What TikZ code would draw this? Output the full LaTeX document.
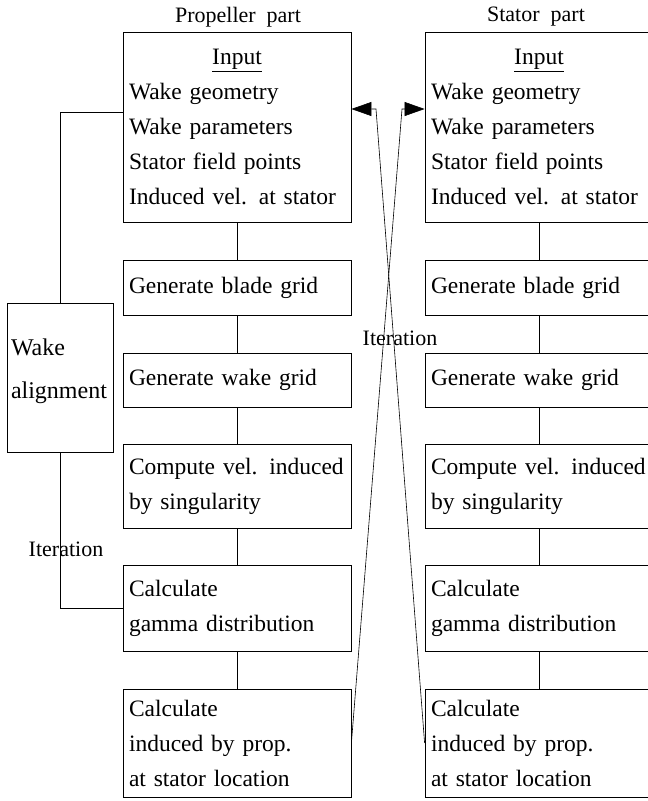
\documentclass[tikz,border=0pt]{standalone}
\usepackage{fontspec}
\setmainfont{Liberation Serif}
\usetikzlibrary{arrows.meta,calc}
\newcommand{\wsp}{\spaceskip=11pt plus 2pt minus 1pt\relax}
\newcommand{\bsp}{\spaceskip=9pt plus 1pt minus 1pt\relax\hyphenpenalty=10000\relax}
\begin{document}
\begin{tikzpicture}[x=1pt,y=-1pt,
  box/.style={draw, line width=0.8pt, minimum width=228pt, text width=216pt, inner xsep=6pt, inner ysep=0pt, align=left, font=\fontsize{23.5}{35}\selectfont\bsp},
  conn/.style={line width=0.6pt},
  lbl/.style={font=\fontsize{22}{26}\selectfont\wsp, inner sep=0pt},
  tip/.style={-{Triangle[length=20pt,width=14pt]}}]
\useasboundingbox (0,0) rectangle (648,801);

% titles
\node[lbl] (tP) at (238,17) {Propeller part};
\node[lbl] (tS) at (536,17) {Stator part};

% propeller column
\node[box, minimum height=190pt] (inL) at (237,127) {\makebox[216pt]{\underline{Input}}\\ Wake geometry\\ Wake parameters\\ Stator field points\\ \mbox{Induced vel. at stator}};
\node[box, minimum height=55pt] (blL) at (237,287.5) {Generate blade grid};
\node[box, minimum height=54pt] (wgL) at (237,380) {Generate wake grid};
\node[box, minimum height=84pt] (cvL) at (237,486) {\mbox{Compute vel. induced}\\ by singularity};
\node[box, minimum height=86pt] (gaL) at (237,608) {Calculate\\ gamma distribution};
\node[box, minimum height=108pt] (idL) at (237,743) {Calculate\\ induced by prop.\\ at stator location};

% stator column
\node[box, minimum height=190pt] (inR) at (539,127) {\makebox[216pt]{\underline{Input}}\\ Wake geometry\\ Wake parameters\\ Stator field points\\ \mbox{Induced vel. at stator}};
\node[box, minimum height=55pt] (blR) at (539,287.5) {Generate blade grid};
\node[box, minimum height=54pt] (wgR) at (539,380) {Generate wake grid};
\node[box, minimum height=84pt] (cvR) at (539,486) {\mbox{Compute vel. induced}\\ by singularity};
\node[box, minimum height=86pt] (gaR) at (539,608) {Calculate\\ gamma distribution};
\node[box, minimum height=108pt] (idR) at (539,743) {Calculate\\ induced by prop.\\ at stator location};

% wake alignment
\node[draw, line width=0.8pt, minimum width=106pt, minimum height=149pt] (wa) at (60,377.5) {};
\node[align=left, text width=98pt, inner sep=0pt, font=\fontsize{24}{43}\selectfont] (wat) at ($(wa.center)+(0,-6)$) {Wake\\ alignment};

% vertical connectors
\foreach \a/\b in {inL/blL, blL/wgL, wgL/cvL, cvL/gaL, gaL/idL, inR/blR, blR/wgR, wgR/cvR, cvR/gaR, gaR/idR}
  \draw[conn] (\a.south) -- (\b.north);

% wake alignment loop
\coordinate (lt) at (60,112);
\coordinate (lb) at (60,608);
\draw[conn] (inL.west |- lt) -- (lt) -- (wa.north);
\draw[conn] (wa.south) -- (lb) -- (gaL.west);
\node[lbl] (it1) at (66,549) {Iteration};

% crossing iteration arrows
\coordinate (r1) at (402,109);
\coordinate (l1) at (376,109);
\draw[conn, tip] (idL.east) -- (r1) -- (inR.west |- r1);
\draw[conn, tip] (idR.west) -- (l1) -- (inL.east |- l1);
\node[lbl] (it2) at (400,338) {Iteration};
\end{tikzpicture}
\end{document}
